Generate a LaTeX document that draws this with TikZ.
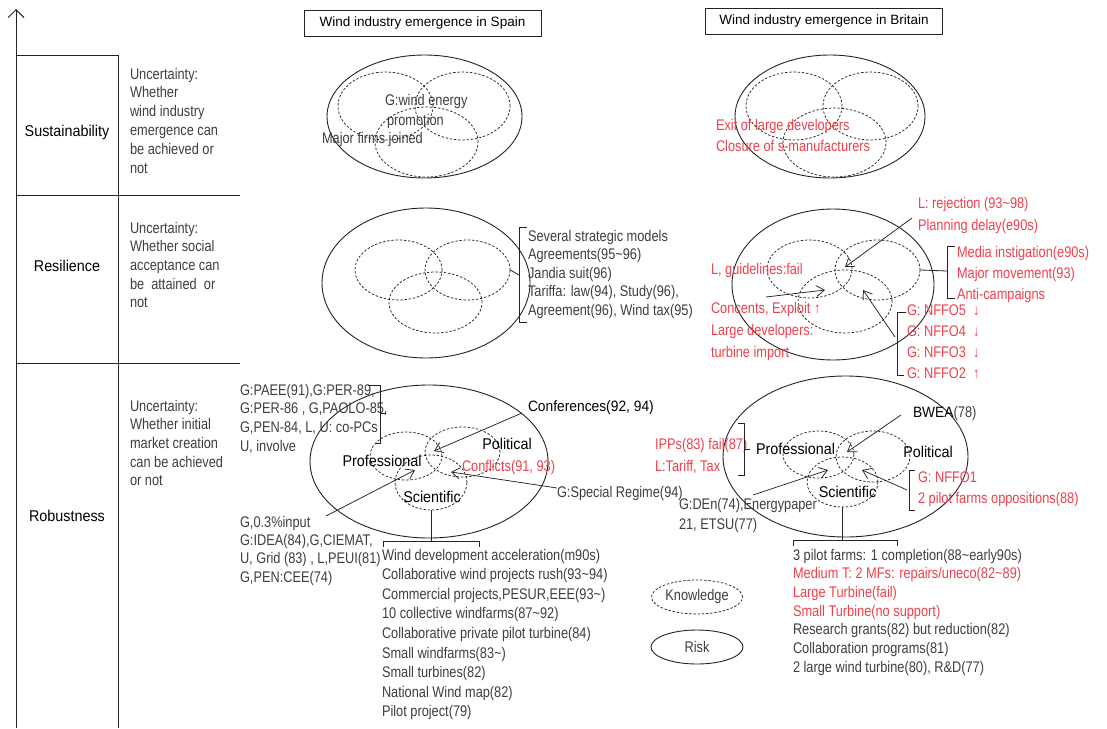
\documentclass[tikz,border=0pt]{standalone}
\usepackage{fontspec}
\setmainfont[FakeStretch=0.83]{Liberation Sans}
\newfontfamily\labfam[FakeStretch=0.92]{Liberation Sans}
\newfontfamily\titfam{Liberation Sans}
\usetikzlibrary{shapes.geometric,arrows.meta}
\definecolor{txtg}{RGB}{62,62,62}
\definecolor{redc}{RGB}{238,64,76}
\definecolor{lnc}{RGB}{35,35,35}
\newcommand\txtsz[1]{\fontsize{15.4}{#1}\selectfont}
\newcommand\tld{\textasciitilde}
\begin{document}
\begin{tikzpicture}[x=1pt,y=-1pt,
  riskell/.style={ellipse,draw=lnc,line width=0.9pt,inner sep=0pt},
  knowell/.style={ellipse,draw=lnc,line width=0.75pt,dash pattern=on 2.4pt off 1.8pt,inner sep=0pt},
  tx/.style={inner sep=0pt,outer sep=0pt,anchor=north west,align=left,text=txtg,font=\txtsz{18.7}},
  sl/.style={inner sep=0pt,outer sep=0pt,anchor=base west,text=txtg,font=\txtsz{18.7}},
  redtxt/.style={text=redc},
  lab/.style={inner sep=0pt,text=black,font=\labfam\fontsize{15.6}{17}\selectfont},
  titlebox/.style={draw=lnc,line width=0.8pt,minimum width=237pt,minimum height=26pt,inner sep=0pt,text=black,font=\titfam\fontsize{13.5}{16}\selectfont},
  arr/.style={draw=lnc,line width=0.75pt,-{Straight Barb[length=8pt,width=11pt,line width=0.75pt]}},
  brk/.style={draw=lnc,line width=0.8pt},
  tbl/.style={draw=lnc,line width=0.9pt}]
\useasboundingbox (0,0) rectangle (1107,728);

% axis and table
\coordinate (ax0) at (16,728);
\coordinate (ax1) at (16,9);
\draw[tbl,-{Straight Barb[length=8pt,width=16pt,line width=0.9pt]}] (ax0) -- (ax1);
\draw[tbl] (16,55) -- (118,55);
\draw[tbl] (16,195) -- (240,195);
\draw[tbl] (16,363) -- (240,363);
\draw[tbl] (118,55) -- (118,728);

% titles
\node[titlebox] (tS) at (422.5,23) {Wind industry emergence in Spain};
\node[titlebox] (tB) at (824,21) {Wind industry emergence in Britain};

% left column
\node[lab] (lS) at (67,132) {Sustainability};
\node[lab] (lR) at (67,266) {Resilience};
\node[lab] (lB) at (67,516) {Robustness};
\node[tx,font=\txtsz{18.8}] (uS) at (130,68) {Uncertainty:\\Whether\\wind industry\\emergence can\\be achieved or\\not};
\node[tx] (uR) at (130,222) {Uncertainty:\\Whether social\\acceptance can\\be~~attained~~or\\not};
\node[tx] (uB) at (130,400) {Uncertainty:\\Whether initial\\market creation\\can be achieved\\or not};

% ---------- Spain sustainability
\node[riskell,minimum width=195pt,minimum height=123pt] (sSo) at (424.5,116.5) {};
\node[knowell,minimum width=95pt,minimum height=68pt] (sSl) at (385.5,106) {};
\node[knowell,minimum width=95pt,minimum height=68pt] (sSr) at (462.5,106) {};
\node[knowell,minimum width=103pt,minimum height=70pt] (sSb) at (426.5,142) {};
\node[sl] (sS1) at (385,105) {G:wind energy};
\node[sl] (sS2) at (387,125) {promotion};
\node[sl] (sS3) at (322,143) {Major firms joined};

% ---------- Britain sustainability
\node[riskell,minimum width=190pt,minimum height=123pt] (bSo) at (830,116.5) {};
\node[knowell,minimum width=96pt,minimum height=68pt] (bSl) at (794,106) {};
\node[knowell,minimum width=95pt,minimum height=68pt] (bSr) at (870.5,106) {};
\node[knowell,minimum width=103pt,minimum height=69pt] (bSb) at (834.5,142.5) {};
\node[tx,redtxt,font=\txtsz{21}] (bS1) at (716,119) {Exit of large developers\\Closure of s-manufacturers};

% ---------- Spain resilience
\node[riskell,minimum width=208pt,minimum height=150pt] (sRo) at (426,283) {};
\node[knowell,minimum width=87pt,minimum height=60pt] (sRl) at (398.5,270) {};
\node[knowell,minimum width=85pt,minimum height=60pt] (sRr) at (467.5,270) {};
\node[knowell,minimum width=93pt,minimum height=61pt] (sRb) at (435.5,302.5) {};
\coordinate (sRk) at (519,275);
\draw[brk] (sRr.east) -- (sRk);
\draw[brk] (527,227) -- (519,227) -- (519,322) -- (527,322);
\node[tx,font=\txtsz{18.6}] (sRt) at (528,230) {Several strategic models\\Agreements(95\tld96)\\Jandia suit(96)\\Tariffa: law(94), Study(96),\\Agreement(96), Wind tax(95)};

% ---------- Britain resilience
\node[riskell,minimum width=202pt,minimum height=151pt] (bRo) at (833,284.5) {};
\node[knowell,minimum width=85pt,minimum height=58pt] (bRl) at (809.5,269) {};
\node[knowell,minimum width=85pt,minimum height=60pt] (bRr) at (877.5,270) {};
\node[knowell,minimum width=94pt,minimum height=63pt] (bRb) at (845,301.5) {};
\node[tx,redtxt,font=\txtsz{22}] (bRrej) at (918,197) {L: rejection (93\tld98)\\Planning delay(e90s)};
\node[sl,redtxt] (bRgui) at (711,274) {L, guidelines:fail};
\node[tx,redtxt,font=\txtsz{22}] (bRcon) at (711,302) {Concents, Exploit ↑\\Large developers:\\turbine import};
\node[tx,redtxt,font=\txtsz{21}] (bRmed) at (957,246) {Media instigation(e90s)\\Major movement(93)\\Anti-campaigns};
\node[tx,redtxt,font=\txtsz{21}] (bRnf) at (907,305) {G: NFFO5\ \ ↓\\G: NFFO4\ \ ↓\\G: NFFO3\ \ ↓\\G: NFFO2\ \ ↑};
\coordinate (bRk) at (947,271);
\draw[brk] (bRr.east) -- (bRk);
\draw[brk] (955,246) -- (947,246) -- (947,298) -- (955,298);
\draw[brk] (906,312) -- (897,312) -- (897,375) -- (904,375);
\coordinate (a1s) at (912,218); \coordinate (a1e) at (845,267);
\coordinate (a2s) at (766,297); \coordinate (a2e) at (825,290);
\coordinate (a3s) at (895,337); \coordinate (a3e) at (863,290);
\draw[arr] (a1s) -- (a1e);
\draw[arr] (a2s) -- (a2e);
\draw[arr] (a3s) -- (a3e);

% ---------- Spain robustness
\node[riskell,minimum width=238pt,minimum height=153pt] (sBo) at (429,461.5) {};
\node[knowell,minimum width=72pt,minimum height=48pt] (sBl) at (406,456) {};
\node[knowell,minimum width=75pt,minimum height=50pt] (sBr) at (462.5,452) {};
\node[knowell,minimum width=72pt,minimum height=55pt] (sBs) at (431,482.5) {};
\node[lab] (sBpro) at (382,461) {Professional};
\node[lab] (sBpol) at (507,444) {Political};
\node[lab] (sBsci) at (432,497) {Scientific};
\node[sl,redtxt] (sBcf) at (462,471) {Conflicts(91, 93)};
\node[sl,text=black,font=\labfam\fontsize{15}{17}\selectfont] (sBconf) at (528,411) {Conferences(92, 94)};
\node[sl] (sBsr) at (557,497) {G:Special Regime(94)};
\node[tx,font=\txtsz{18.7}] (sBlt) at (240,384) {G:PAEE(91),G:PER-89,\\G:PER-86 , G,PAOLO-85,\\G,PEN-84, L, U: co-PCs\\U, involve};
\node[tx,font=\txtsz{18.4}] (sBlb) at (240,516) {G,0.3\%input\\G:IDEA(84),G,CIEMAT,\\U, Grid (83) , L,PEUI(81)\\G,PEN:CEE(74)};
\draw[brk] (368,385) -- (380,385) -- (380,443) -- (376,443);
\draw[brk] (380,413) -- (386,413);
\coordinate (a4s) at (522,413); \coordinate (a4e) at (434,451);
\coordinate (a5s) at (557,488); \coordinate (a5e) at (451,472);
\coordinate (a6s) at (326,516); \coordinate (a6e) at (415,470);
\draw[arr] (a4s) -- (a4e);
\draw[arr] (a5s) -- (a5e);
\draw[arr] (a6s) -- (a6e);
\coordinate (sBk) at (431,541);
\draw[brk] (sBs.south) -- (sBk);
\draw[brk] (383,547) -- (383,541) -- (479,541) -- (479,547);
\node[tx,font=\txtsz{19.6}] (sBlist) at (382,549) {Wind development acceleration(m90s)\\Collaborative wind projects rush(93\tld94)\\Commercial projects,PESUR,EEE(93\tld)\\10 collective windfarms(87\tld92)\\Collaborative private pilot turbine(84)\\Small windfarms(83\tld)\\Small turbines(82)\\National Wind map(82)\\Pilot project(79)};

% ---------- Britain robustness
\node[riskell,minimum width=245pt,minimum height=161pt] (bBo) at (845.5,456.5) {};
\node[knowell,minimum width=71pt,minimum height=47pt] (bBl) at (818.5,454.5) {};
\node[knowell,minimum width=74pt,minimum height=51pt] (bBr) at (873,456.5) {};
\node[knowell,minimum width=71pt,minimum height=50pt] (bBs) at (842.5,482) {};
\node[lab] (bBpro) at (795.5,449) {Professional};
\node[lab] (bBpol) at (928,452) {Political};
\node[lab] (bBsci) at (847.5,492) {Scientific};
\node[sl] (bBbw) at (913,417) {{\labfam\fontsize{15}{17}\selectfont\color{black}BWEA}(78)};
\node[tx,redtxt,font=\txtsz{22}] (bBipp) at (655,438) {IPPs(83) fail(87)\\L:Tariff, Tax};
\node[tx,font=\txtsz{20}] (bBden) at (679,498) {G:DEn(74),Energypaper\\21, ETSU(77)};
\node[tx,redtxt,font=\txtsz{21}] (bBnf) at (918,472) {G: NFFO1\\2 pilot farms oppositions(88)};
\draw[brk] (738,423) -- (744,423) -- (744,475) -- (738,475);
\draw[brk] (744,449) -- (750,449);
\draw[brk] (915,470) -- (909,470) -- (909,510) -- (915,510);
\coordinate (a7s) at (901,415); \coordinate (a7e) at (847,452);
\coordinate (a8s) at (753,495); \coordinate (a8e) at (828,470);
\coordinate (a9s) at (907,490); \coordinate (a9e) at (862,470);
\draw[arr] (a7s) -- (a7e);
\draw[arr] (a8s) -- (a8e);
\draw[arr] (a9s) -- (a9e);
\coordinate (bBk) at (842.5,540);
\draw[brk] (bBs.south) -- (bBk);
\draw[brk] (793,546) -- (793,540) -- (897,540) -- (897,546);
\node[tx,font=\txtsz{18.7}] (bBlist) at (793,549) {3 pilot farms: 1 completion(88\tld early90s)\\\textcolor{redc}{Medium T: 2 MFs: repairs/uneco(82\tld89)}\\\textcolor{redc}{Large Turbine(fail)}\\\textcolor{redc}{Small Turbine(no support)}\\Research grants(82) but reduction(82)\\Collaboration programs(81)\\2 large wind turbine(80), R\&D(77)};

% ---------- legend
\node[knowell,minimum width=91pt,minimum height=34pt,text=txtg,font=\txtsz{17}] (lgK) at (697,597) {Knowledge};
\node[riskell,minimum width=92pt,minimum height=34pt,text=txtg,font=\txtsz{17}] (lgR) at (697,647) {Risk};
\end{tikzpicture}
\end{document}
